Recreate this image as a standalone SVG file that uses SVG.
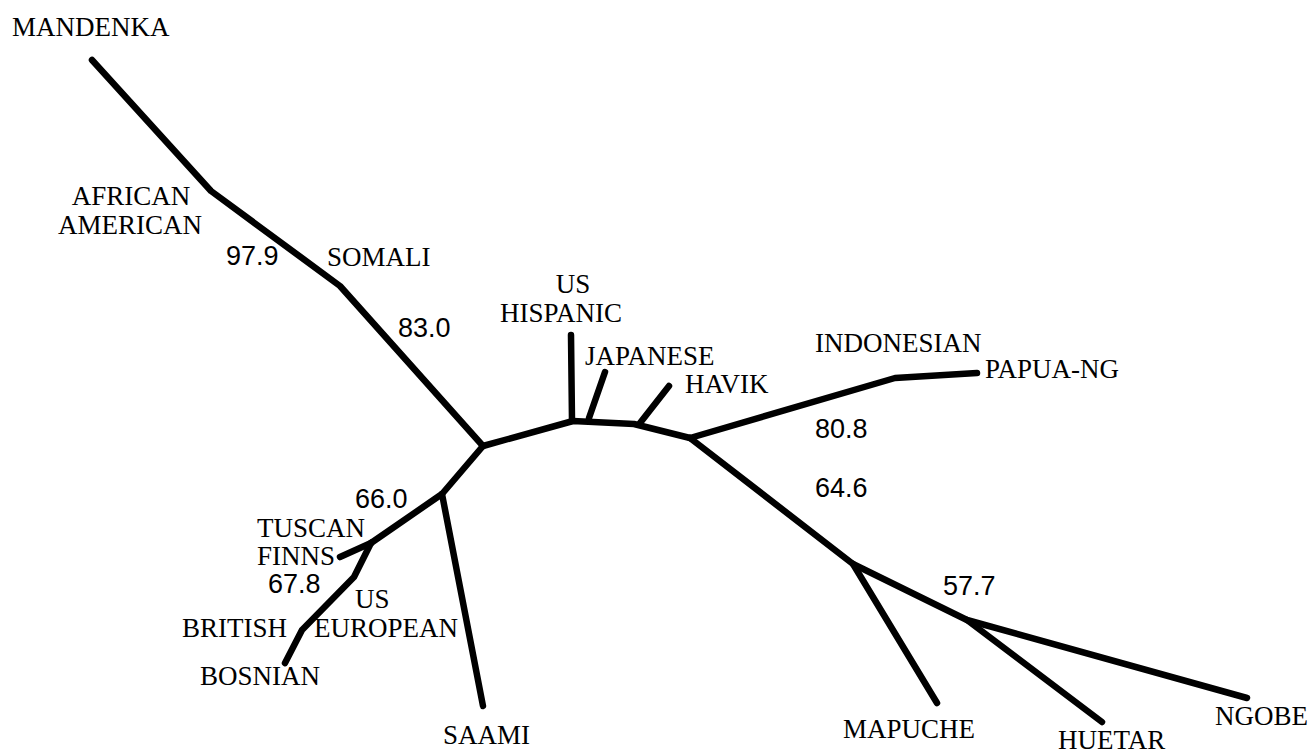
<svg xmlns="http://www.w3.org/2000/svg" width="1311" height="753" viewBox="0 0 1311 753">
  <style>
    .br { fill: none; stroke: #000; stroke-width: 6.5; stroke-linecap: round; stroke-linejoin: round; }
    .lb { font-family: "Liberation Serif", "Times New Roman", serif; font-size: 27px; fill: #000; }
    .bs { font-family: "Liberation Sans", Arial, sans-serif; font-size: 27px; fill: #000; }
  </style>
  <rect width="1311" height="753" fill="#fff"/>

  <!-- tree branches -->
  <g id="connectors">
    <polyline class="br" points="92,60 211,191 340,286 483,446"/>
    <polyline class="br" points="483,446 573,421 634,424 690,438"/>
    <line class="br" x1="571" y1="335" x2="572" y2="421"/>
    <line class="br" x1="605" y1="372" x2="589" y2="418"/>
    <line class="br" x1="669" y1="386" x2="640" y2="423"/>
    <polyline class="br" points="690,438 895,378 977,373"/>
    <polyline class="br" points="690,438 853,564 967,620 1247,698"/>
    <line class="br" x1="853" y1="564" x2="937" y2="703"/>
    <line class="br" x1="967" y1="620" x2="1102" y2="722"/>
    <polyline class="br" points="483,446 442,494 371,543"/>
    <line class="br" x1="442" y1="494" x2="483" y2="706"/>
    <line class="br" x1="371" y1="543" x2="340" y2="557"/>
    <polyline class="br" points="371,543 354,577 302,630 285,663"/>
  </g>

  <!-- branch support values -->
  <g id="support">
    <text class="bs" x="226" y="265">97.9</text>
    <text class="bs" x="398" y="337">83.0</text>
    <text class="bs" x="815" y="438">80.8</text>
    <text class="bs" x="815" y="497">64.6</text>
    <text class="bs" x="943" y="595">57.7</text>
    <text class="bs" x="355" y="508">66.0</text>
    <text class="bs" x="268" y="593">67.8</text>
  </g>

  <!-- population leaves -->
  <g id="mandenka"><text class="lb" x="12" y="36">MANDENKA</text></g>
  <g id="african-american">
    <text class="lb" x="131" y="205" text-anchor="middle">AFRICAN</text>
    <text class="lb" x="130" y="234" text-anchor="middle">AMERICAN</text>
  </g>
  <g id="somali"><text class="lb" x="327" y="266">SOMALI</text></g>
  <g id="us-hispanic">
    <text class="lb" x="573" y="293" text-anchor="middle">US</text>
    <text class="lb" x="561" y="322" text-anchor="middle">HISPANIC</text>
  </g>
  <g id="japanese"><text class="lb" x="585" y="365">JAPANESE</text></g>
  <g id="havik"><text class="lb" x="685" y="393">HAVIK</text></g>
  <g id="indonesian"><text class="lb" x="815" y="352">INDONESIAN</text></g>
  <g id="papua-ng"><text class="lb" x="985" y="378">PAPUA-NG</text></g>
  <g id="mapuche"><text class="lb" x="843" y="738">MAPUCHE</text></g>
  <g id="huetar"><text class="lb" x="1058" y="749">HUETAR</text></g>
  <g id="ngobe"><text class="lb" x="1215" y="725">NGOBE</text></g>
  <g id="saami"><text class="lb" x="443" y="744">SAAMI</text></g>
  <g id="tuscan"><text class="lb" x="257" y="537">TUSCAN</text></g>
  <g id="finns"><text class="lb" x="257" y="565">FINNS</text></g>
  <g id="us-european">
    <text class="lb" x="355" y="608">US</text>
    <text class="lb" x="314" y="637">EUROPEAN</text>
  </g>
  <g id="british"><text class="lb" x="182" y="637">BRITISH</text></g>
  <g id="bosnian"><text class="lb" x="200" y="685">BOSNIAN</text></g>
</svg>
